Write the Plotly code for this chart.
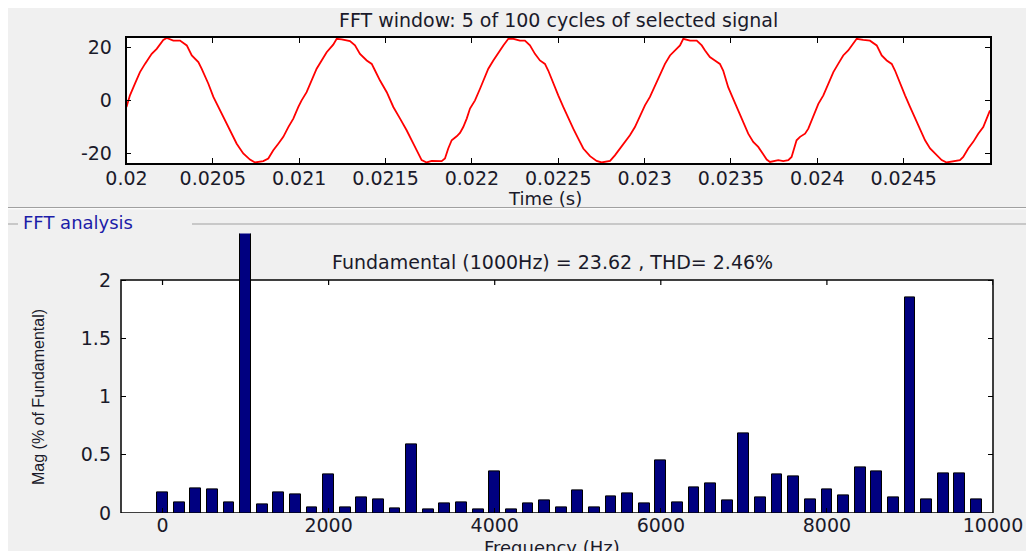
import plotly.graph_objects as go

# ---------------- data ----------------
# waveform (time in s, value)
time_s = [0.020000, 0.020020, 0.020049, 0.020078, 0.020107, 0.020146, 0.020175, 0.020213, 0.020233,
          0.020271, 0.020310, 0.020349, 0.020378, 0.020416, 0.020435, 0.020474, 0.020503, 0.020541,
          0.020580, 0.020609, 0.020638, 0.020676, 0.020715, 0.020744, 0.020792, 0.020821, 0.020850,
          0.020879, 0.020908, 0.020937, 0.020966, 0.020995, 0.021014, 0.021043, 0.021072, 0.021101,
          0.021130, 0.021159, 0.021197, 0.021217, 0.021246, 0.021294, 0.021323, 0.021352, 0.021391,
          0.021420, 0.021439, 0.021468, 0.021507, 0.021545, 0.021584, 0.021622, 0.021661,
          0.021709, 0.021738, 0.021767, 0.021825, 0.021844, 0.021863, 0.021883, 0.021912, 0.021931,
          0.021950, 0.021970, 0.021989, 0.022018, 0.022047, 0.022066, 0.022095, 0.022124, 0.022153,
          0.022182, 0.022211, 0.022240, 0.022278, 0.022307, 0.022336, 0.022365, 0.022394, 0.022423,
          0.022442, 0.022471, 0.022500, 0.022529, 0.022558, 0.022587, 0.022616, 0.022645, 0.022684,
          0.022722, 0.022751, 0.022800, 0.022828, 0.022857, 0.022886, 0.022915, 0.022944, 0.022973,
          0.023002, 0.023031, 0.023060, 0.023089, 0.023118, 0.023147, 0.023176, 0.023205, 0.023224,
          0.023263, 0.023302, 0.023331, 0.023350, 0.023378,
          0.023407, 0.023436, 0.023455, 0.023484, 0.023513, 0.023542, 0.023571, 0.023600, 0.023629,
          0.023658, 0.023678, 0.023707, 0.023726, 0.023774, 0.023803, 0.023832, 0.023851, 0.023880,
          0.023900, 0.023929, 0.023948, 0.023967, 0.023986, 0.024006, 0.024035, 0.024064, 0.024093,
          0.024121, 0.024150, 0.024179, 0.024208, 0.024228, 0.024266, 0.024305, 0.024344, 0.024373,
          0.024402, 0.024431, 0.024450, 0.024479, 0.024508, 0.024537, 0.024566, 0.024595, 0.024624,
          0.024653, 0.024691, 0.024720, 0.024749, 0.024787, 0.024826, 0.024845, 0.024874, 0.024903,
          0.024932, 0.024961, 0.024981, 0.025000]
signal = [-2.5, 1.9, 6.3, 10.7, 13.8, 17.6, 19.5, 22.9, 23.6,
          22.6, 22.6, 20.8, 17.0, 14.5, 12.0, 6.3, 1.3, -3.8,
          -8.8, -12.6, -16.4, -20.1, -22.4, -23.5, -23.0, -22.0, -18.9,
          -16.4, -13.8, -10.1, -6.9, -2.5, 0.0, 3.1, 7.5, 12.0,
          15.1, 18.2, 21.1, 23.3, 23.1, 22.4, 20.8, 17.6, 15.1,
          13.8, 11.3, 7.5, 3.1, -2.5, -6.9, -11.3, -16.4,
          -22.6, -23.5, -22.9, -23.0, -22.0, -18.2, -15.1, -13.6, -12.3,
          -10.1, -6.9, -3.1, 0.0, 4.4, 7.5, 12.0, 15.1, 18.2,
          20.8, 23.3, 23.3, 22.6, 22.6, 20.8, 17.6, 15.1, 13.8,
          11.3, 6.3, 1.9, -2.5, -6.9, -10.7, -14.5, -18.2, -21.1,
          -22.9, -23.5, -22.9, -20.8, -18.2, -15.7, -13.2, -10.1, -5.7,
          -1.9, 1.3, 5.7, 10.1, 13.8, 17.0, 18.9, 20.8, 23.3,
          22.6, 22.6, 20.8, 18.9, 16.4,
          15.1, 13.8, 11.3, 5.0, 0.6, -3.8, -8.2, -12.6, -15.7,
          -17.6, -19.5, -22.4, -23.3, -22.6, -23.0, -22.6, -21.4, -15.1,
          -13.8, -12.6, -10.7, -7.5, -4.4, -1.3, 1.9, 6.3, 10.7,
          13.8, 17.0, 18.9, 21.4, 23.3, 22.9, 22.6, 20.8, 17.0,
          15.1, 13.8, 11.3, 6.3, 1.9, -2.5, -6.9, -11.3, -15.1,
          -18.2, -20.8, -22.6, -23.5, -23.0, -22.6, -21.4, -18.2, -15.7,
          -12.6, -10.1, -6.9, -3.8]

# FFT spectrum (Hz, % of fundamental)
freq_hz = [0, 200, 400, 600, 800, 1000, 1200, 1400, 1600, 1800,
           2000, 2200, 2400, 2600, 2800, 3000, 3200, 3400, 3600, 3800,
           4000, 4200, 4400, 4600, 4800, 5000, 5200, 5400, 5600, 5800,
           6000, 6200, 6400, 6600, 6800, 7000, 7200, 7400, 7600, 7800,
           8000, 8200, 8400, 8600, 8800, 9000, 9200, 9400, 9600, 9800]
mag_pct = [0.18, 0.09, 0.21, 0.20, 0.09, 100.0, 0.07, 0.18, 0.16, 0.05,
           0.33, 0.05, 0.13, 0.12, 0.04, 0.59, 0.03, 0.08, 0.09, 0.03,
           0.36, 0.03, 0.08, 0.11, 0.05, 0.19, 0.05, 0.14, 0.17, 0.08,
           0.45, 0.09, 0.22, 0.25, 0.11, 0.68, 0.13, 0.33, 0.31, 0.12,
           0.20, 0.15, 0.39, 0.36, 0.13, 1.85, 0.12, 0.34, 0.34, 0.12]

t_ticks = [0.02, 0.0205, 0.021, 0.0215, 0.022, 0.0225, 0.023, 0.0235, 0.024, 0.0245]
t_tick_labels = ["0.02", "0.0205", "0.021", "0.0215", "0.022", "0.0225", "0.023", "0.0235", "0.024", "0.0245"]
v_ticks = [-20, 0, 20]
v_tick_labels = ["-20", "0", "20"]
f_ticks = [0, 2000, 4000, 6000, 8000, 10000]
f_tick_labels = ["0", "2000", "4000", "6000", "8000", "10000"]
m_ticks = [0, 0.5, 1, 1.5, 2]
m_tick_labels = ["0", "0.5", "1", "1.5", "2"]

title_top = "FFT window: 5 of 100 cycles of selected signal"
title_bottom = "Fundamental (1000Hz) = 23.62 , THD= 2.46%"

# ---------------- layout helpers ----------------
W, H = 1034, 551
OFF = 8  # the page body margin shifts the figure by 8 px
def px(x):
    return (x - OFF) / W
def py(y):
    return 1 - (y - OFF) / H

BG = "#f0f0f0"
TXT = "#1a1a2a"
FONT = "DejaVu Sans"
FS = 19

fig = go.Figure()

fig.add_trace(go.Scatter(x=time_s, y=signal, mode="lines",
                         line=dict(color="#ff0000", width=1.8),
                         xaxis="x", yaxis="y", showlegend=False))

fig.add_trace(go.Bar(x=freq_hz, y=mag_pct, width=130,
                     marker=dict(color="#000080", line=dict(color="#000000", width=1)),
                     xaxis="x2", yaxis="y2", showlegend=False))

axis_common = dict(showgrid=False, zeroline=False, ticks="inside", ticklen=5,
                   tickwidth=1.2, tickcolor="#000000", automargin=False,
                   tickfont=dict(family=FONT, size=FS, color=TXT), tickangle=0,
                   tickmode="array")

bottom_top = 513 - 2.4 * 116.5

fig.update_layout(
    width=W, height=H, autosize=False,
    margin=dict(l=0, r=0, t=0, b=0, pad=0, autoexpand=False),
    paper_bgcolor=BG, plot_bgcolor=BG,
    bargap=0,
    xaxis=dict(domain=[px(126.5), px(990)], range=[0.02, 0.025], anchor="y",
               tickvals=t_ticks, ticktext=t_tick_labels,
               showline=True, linecolor="#000000", linewidth=1.5, mirror="ticks",
               ticklabelstandoff=-3, **axis_common),
    yaxis=dict(domain=[py(163), py(38)], range=[-23.7, 23.6], anchor="x",
               tickvals=v_ticks, ticktext=v_tick_labels,
               showline=True, linecolor="#000000", linewidth=1.5, mirror="ticks",
               ticklabelstandoff=9, **axis_common),
    xaxis2=dict(domain=[px(121), px(993)], range=[-500, 10000], anchor="y2",
                tickvals=f_ticks, ticktext=f_tick_labels,
                showline=False, ticklabelstandoff=-1, **axis_common),
    yaxis2=dict(domain=[py(513), py(bottom_top)], range=[0, 2.4], anchor="x2",
                tickvals=m_ticks, ticktext=m_tick_labels,
                showline=False, mirror="ticks", ticklabelstandoff=9, **axis_common),
)

shapes = []
# white areas behind the plots
shapes.append(dict(type="rect", xref="x domain", yref="y domain", x0=0, x1=1, y0=0, y1=1,
                   fillcolor="#ffffff", line=dict(width=0), layer="below"))
shapes.append(dict(type="rect", xref="x2 domain", yref="y2", x0=0, x1=1, y0=0, y1=2,
                   fillcolor="#ffffff", line=dict(color="#000000", width=1.5), layer="below"))
# top ticks of the spectrum frame
for f in f_ticks:
    shapes.append(dict(type="line", xref="x2", yref="y2", x0=f, x1=f, y0=2, y1=2 - 5 / 116.5,
                       line=dict(color="#000000", width=1.2)))
# window decorations
shapes.append(dict(type="line", xref="paper", yref="paper", x0=0, x1=1, y0=py(207.5), y1=py(207.5),
                   line=dict(color="#a0a0a0", width=1)))
shapes.append(dict(type="line", xref="paper", yref="paper", x0=0, x1=1, y0=py(208.8), y1=py(208.8),
                   line=dict(color="#ffffff", width=1)))
shapes.append(dict(type="line", xref="paper", yref="paper", x0=0, x1=px(18), y0=py(224), y1=py(224),
                   line=dict(color="#a0a0a0", width=1)))
shapes.append(dict(type="line", xref="paper", yref="paper", x0=px(192), x1=1, y0=py(224), y1=py(224),
                   line=dict(color="#a0a0a0", width=1)))
fig.update_layout(shapes=shapes)

ann = []
ann.append(dict(text=title_top, xref="paper", yref="paper", x=px(558), y=py(20),
                xanchor="center", yanchor="middle", showarrow=False,
                font=dict(family=FONT, size=FS, color=TXT)))
ann.append(dict(text="Time (s)", xref="paper", yref="paper", x=px(545), y=py(198),
                xanchor="center", yanchor="middle", showarrow=False,
                font=dict(family=FONT, size=18, color=TXT)))
ann.append(dict(text="FFT analysis", xref="paper", yref="paper", x=px(21), y=py(223),
                xanchor="left", yanchor="middle", showarrow=False,
                font=dict(family=FONT, size=18, color="#1c1ca8")))
ann.append(dict(text=title_bottom, xref="paper", yref="paper", x=px(552), y=py(262),
                xanchor="center", yanchor="middle", showarrow=False,
                font=dict(family=FONT, size=FS, color=TXT)))
ann.append(dict(text="Frequency (Hz)", xref="paper", yref="paper", x=px(552), y=py(547),
                xanchor="center", yanchor="middle", showarrow=False,
                font=dict(family=FONT, size=18, color=TXT)))
ann.append(dict(text="Mag (% of Fundamental)", xref="paper", yref="paper", x=px(38), y=py(397),
                xanchor="center", yanchor="middle", showarrow=False, textangle=-90,
                font=dict(family="Liberation Sans", size=16, color=TXT)))
fig.update_layout(annotations=ann)

fig.write_html("out.html")
